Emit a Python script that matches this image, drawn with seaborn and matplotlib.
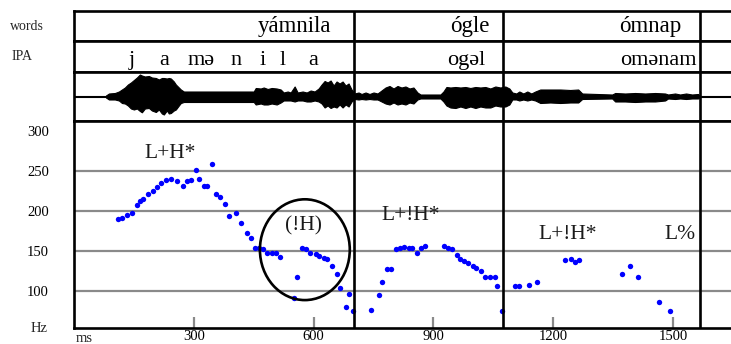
import numpy as np
import pandas as pd
import matplotlib
matplotlib.use("Agg")
import matplotlib.pyplot as plt
from matplotlib.patches import Ellipse
import seaborn as sns

# ---------------- data ----------------
pitch_ms = [109, 119, 132, 145, 157, 166, 174, 186, 198, 207, 219, 230, 242, 257, 272,
            284, 292, 306, 312, 326, 334, 345, 356, 365, 379, 388, 406, 418, 432, 443,
            452, 463, 474, 484, 497, 507, 516, 552, 559, 570, 580, 592, 605, 613, 626,
            634, 647, 659, 666, 680, 688, 699,
            744, 763, 772, 784, 794, 805, 816, 826, 838, 847, 859, 869, 880, 926, 936,
            947, 959, 966, 976, 986, 998, 1007, 1019, 1030, 1042, 1055, 1059, 1071,
            1105, 1115, 1138, 1159, 1230, 1244, 1255, 1265, 1372, 1392, 1412, 1465, 1493]
pitch_hz = [190, 192, 195, 197.5, 208, 213, 215, 221.6, 225, 231, 236, 239, 240, 238, 232,
            238, 239, 251.6, 240, 232, 231.6, 259, 221.6, 217.5, 208.7, 194, 197.5, 185, 172.5, 166,
            154, 154, 153, 148, 147.5, 147.5, 143, 92, 118, 154, 152.5, 147.5, 146, 144.5, 142,
            140, 132, 121.6, 104, 80, 96.6, 75,
            76, 95, 112, 127.5, 128, 152.5, 154, 155, 154, 154, 147.5, 154, 157, 157, 154,
            153, 145, 140, 138, 135, 132, 129, 125, 118, 118, 118, 106, 75,
            106, 106, 107.5, 112, 139, 140, 136, 139, 121.6, 132, 117.5, 86, 75]

# waveform envelope (ms, upper / lower extent in screen px about the zero line)
wave_ms = [80, 87.5, 102.5, 112.5, 120, 127.5, 135, 142.5, 150, 157.5, 165, 170, 177.5,
           187.5, 195, 205, 212.5, 220, 225, 232.5, 237.5, 242.5, 250, 255, 262.5, 267.5,
           275, 450, 455, 467.5, 475, 485, 495, 507.5, 517.5, 525, 535, 542.5, 552.5, 560,
           572.5, 582.5, 592.5, 602.5, 612.5, 620, 627.5, 635, 642.5, 650, 657.5, 665,
           672.5, 680, 687.5, 695, 702.5, 712.5, 720, 730, 740, 750, 760, 770, 780, 790,
           800, 810, 820, 830, 840, 850, 860, 867.5, 917.5, 925, 932.5, 942.5, 955, 967.5,
           980, 992.5, 1005, 1017.5, 1030, 1042.5, 1055, 1067.5, 1080, 1090, 1097.5,
           1107.5, 1115, 1125, 1135, 1145, 1155, 1167.5, 1192.5, 1217.5, 1242.5, 1262.5,
           1272.5, 1347.5, 1355, 1380, 1405, 1430, 1455, 1480, 1487.5, 1505, 1517.5,
           1532.5, 1547.5, 1562.5, 1567.5]
wave_top = [1, 3, 3.5, 5, 7, 9, 12, 14, 16.5, 19, 22, 21, 20,
            20.5, 19, 18.5, 17, 18.5, 18.5, 18, 18.5, 18, 15, 12, 9, 7,
            5, 5, 8.5, 8, 9, 7.5, 8.5, 8, 7, 4, 5, 4, 10, 4,
            5, 4, 6, 5, 8, 12, 15.5, 14, 16, 11, 15, 13,
            15, 11, 13, 7, 3, 4, 2.5, 4, 2.5, 4, 3, 6, 9, 10.5,
            8, 10.5, 9, 10, 8, 9, 4, 2, 2, 5, 9.5, 9, 9.5, 9,
            9.5, 8.5, 9.5, 9, 9.5, 8, 10, 9, 10, 8, 4,
            3, 5, 3, 5, 3, 5, 7, 7, 7, 6.5, 7,
            3, 2, 3.5, 3, 3.5, 3, 3.5, 3, 2, 3, 2,
            3, 2, 2.5, 0.5]
wave_bot = [-1, -3, -3, -4, -6.5, -7, -9, -12, -13, -12, -14.5, -15.8, -12,
            -11.5, -14, -15.5, -13, -17, -18, -14, -17, -16.5, -14, -13, -9, -6.5,
            -5.5, -5.5, -8, -7, -8, -8, -7, -8, -6, -4, -4, -4, -5, -4,
            -4, -5, -5, -4, -5, -7, -11, -9, -11.5, -10, -11, -8,
            -11, -8, -10, -5, -2.5, -3, -2.5, -3, -2.5, -3, -3, -5, -7, -8,
            -6, -8, -7, -8, -6, -7, -3, -2, -2, -5, -9, -11, -11.5, -10,
            -11.5, -10, -11.5, -10, -11, -11, -9, -10, -10, -8, -3,
            -3, -4, -3, -4, -3, -4, -6.5, -6, -6.5, -6, -6,
            -2.5, -2, -5, -5, -5.5, -5, -5, -4, -2, -2.5, -2,
            -2.5, -2, -2, -0.5]

boundaries_ms = [702, 1075, 1567]
words = ["yámnila", "ógle", "ómnap"]
ipa_first_segments = ["j", "a", "mə", "n", "i", "l", "a"]
ipa_words = ["ogəl", "omənam"]
tones = ["L+H*", "(!H)", "L+!H*", "L+!H*", "L%"]
grid_hz = [100, 150, 200, 250]
ytick_hz = [100, 150, 200, 250, 300]
xtick_ms = [300, 600, 900, 1200, 1500]

# ---------------- style ----------------
sns.set_style("white")
plt.rcParams["font.family"] = ["Liberation Serif", "DejaVu Serif"]

W, H = 731, 344
fig = plt.figure(figsize=(W / 100, H / 100), dpi=100)

def ax_at(top, bottom, left=74, right=731):
    return fig.add_axes([left / W, 1 - bottom / H, (right - left) / W, (bottom - top) / H])

XMAX = (731 - 73) / 0.4
ax_w = ax_at(11, 41)
ax_i = ax_at(41, 72)
ax_wave = ax_at(72, 121)
ax_p = ax_at(121, 328)

SP = 1.9
for ax in (ax_w, ax_i, ax_wave, ax_p):
    ax.set_xlim(0, XMAX)
    for s in ("left", "top", "bottom"):
        ax.spines[s].set_linewidth(SP)
        ax.spines[s].set_color("black")
    ax.spines["right"].set_visible(False)
    ax.set_facecolor("white")
    for b in boundaries_ms:
        ax.axvline(b, color="black", lw=SP, zorder=5)

for ax in (ax_w, ax_i, ax_wave):
    ax.set_xticks([])
    ax.set_yticks([])
    ax.set_ylim(0, 1)

# words tier
word_right_ms = [645, 1040, 1522]
for w, xr in zip(words, word_right_ms):
    ax_w.text(xr, 0.3, w, ha="right", va="baseline", fontsize=16.5, color="black")

# IPA tier
seg_ms = [144, 225, 318, 405, 472, 523, 598]
for s, xm in zip(ipa_first_segments, seg_ms):
    ax_i.text(xm, 0.23, s, ha="center", va="baseline", fontsize=16, color="black")
ipa_right_ms = [1030, 1560]
for w, xr in zip(ipa_words, ipa_right_ms):
    ax_i.text(xr, 0.23, w, ha="right", va="baseline", fontsize=16, color="black")

# waveform tier
ax_wave.set_ylim(-24.5, 24.5)
ax_wave.fill_between(wave_ms, wave_top, wave_bot, color="black", lw=0.8, edgecolor="black")
ax_wave.axhline(0, color="black", lw=1.5)

# pitch tier
ax_p.set_ylim(54.1, 312.9)
for g in grid_hz:
    ax_p.axhline(g, color="#8a8a8a", lw=1.6, zorder=1)
df = pd.DataFrame({"ms": pitch_ms, "hz": pitch_hz})
sns.scatterplot(data=df, x="ms", y="hz", ax=ax_p, color="#0000ff", s=15,
                linewidth=0, marker="o", zorder=4)
ax_p.set_xlabel("")
ax_p.set_ylabel("")
ax_p.set_xticks(xtick_ms)
ax_p.set_xticklabels([str(v) for v in xtick_ms])
ax_p.tick_params(axis="x", direction="in", length=8, width=1.6, color="#8a8a8a",
                 labelsize=10.5, pad=1.5, labelcolor="black", bottom=True)
ax_p.set_yticks(ytick_hz)
ax_p.set_yticklabels([str(v) for v in ytick_hz])
ax_p.tick_params(axis="y", length=0, pad=18, labelsize=10.5, labelcolor="black", left=True)

tone_pos = [(240, 266.6), (575, 176.6), (842, 189), (1235, 165), (1517, 165)]
for t, (xm, yh) in zip(tones, tone_pos):
    ax_p.text(xm, yh, t, ha="center", va="baseline", fontsize=15.5, color="#1a1a1a", zorder=6)

ax_p.add_patch(Ellipse((578, 152), 225, 126, fill=False, edgecolor="black", lw=1.9, zorder=6))

# side labels
fig.text(10 / W, 1 - 26 / H, "words", ha="left", va="center", fontsize=10)
fig.text(12 / W, 1 - 57 / H, "IPA", ha="left", va="center", fontsize=10)
fig.text(48 / W, 1 - 329 / H, "Hz", ha="right", va="center", fontsize=10.5)
fig.text(76 / W, 1 - 341.5 / H, "ms", ha="left", va="baseline", fontsize=10.5)

fig.savefig("out.png", dpi=100)
